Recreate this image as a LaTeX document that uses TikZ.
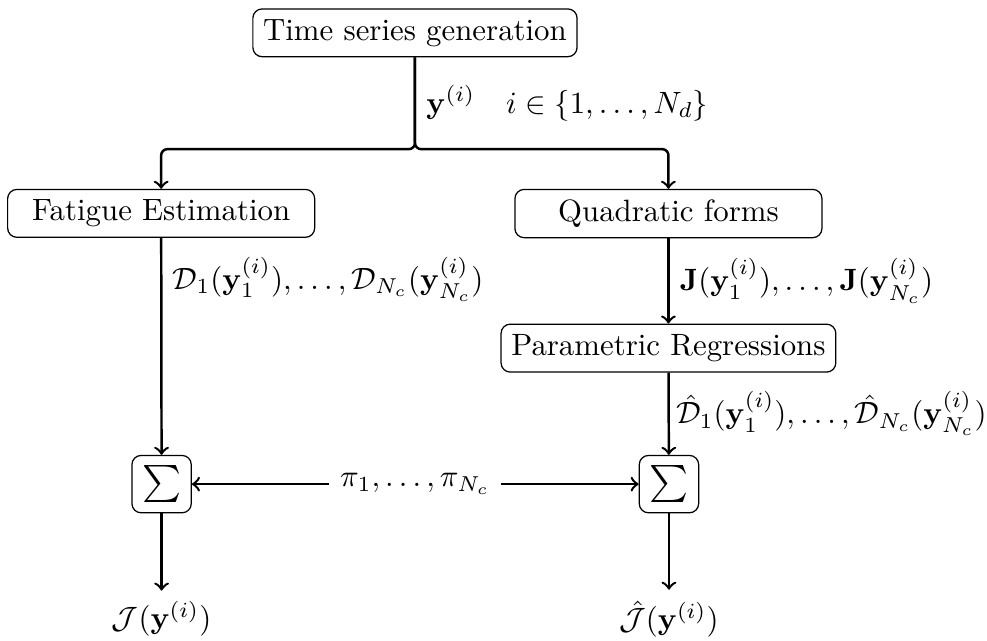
\documentclass[tikz,border=0pt]{standalone}
\usepackage{amsmath,amssymb}

\begin{document}
\begin{tikzpicture}[box/.style={draw, rounded corners=3pt, minimum width=3.5cm},
  sumbox/.style={draw, rounded corners=3pt, inner sep=3.3pt, font=\large},
  conn/.style={black, thick, -{to}}]
\useasboundingbox (0,0) rectangle (11.25,-7.306);
\node[box] (gen) at (4.73,-0.374) {Time series generation};
\node[box] (fat) at (1.837,-2.432) {Fatigue Estimation};
\node[box] (quad) at (7.619,-2.434) {Quadratic forms};
\node[box] (reg) at (7.619,-3.968) {Parametric Regressions};
\node[sumbox] (sl) at (1.842,-5.518) {$\sum$};
\node[sumbox] (sr) at (7.625,-5.518) {$\sum$};
\node (pi) at (4.733,-5.518) {$\pi_1,\dots,\pi_{N_c}$};
\node (jl) at (1.842,-7.056) {$\mathcal{J}(\mathbf{y}^{(i)})$};
\node (jr) at (7.625,-7.056) {$\hat{\mathcal{J}}(\mathbf{y}^{(i)})$};
\coordinate (br) at (4.73,-1.70);
%\draw[black, dashed] (gen) -- (br);
\draw[conn, rounded corners=2pt] (gen) -- node[midway, right] (yi) {$\mathbf{y}^{(i)}\quad i\in\{1,\dots,N_d\}$} (br) -| (fat);
\draw[conn, rounded corners=2pt] (gen) -- (br) -| (quad);
\draw[conn] (fat) -- node[pos=0.19, right] (dl) {$\mathcal{D}_1(\mathbf{y}_1^{(i)}),\dots,\mathcal{D}_{N_c}(\mathbf{y}_{N_c}^{(i)})$} (sl);
\draw[conn] (quad) -- node[midway, right] (jq) {$\mathbf{J}(\mathbf{y}_1^{(i)}),\dots,\mathbf{J}(\mathbf{y}_{N_c}^{(i)})$} (reg);
\draw[conn] (reg) -- node[midway, right, inner xsep=2pt] (dh) {$\hat{\mathcal{D}}_1(\mathbf{y}_1^{(i)}),\dots,\hat{\mathcal{D}}_{N_c}(\mathbf{y}_{N_c}^{(i)})$} (sr);
\draw[conn] (pi) -- (sl);
\draw[conn] (pi) -- (sr);
\draw[conn] (sl) -- (jl);
\draw[conn] (sr) -- (jr);
\end{tikzpicture}
\end{document}
